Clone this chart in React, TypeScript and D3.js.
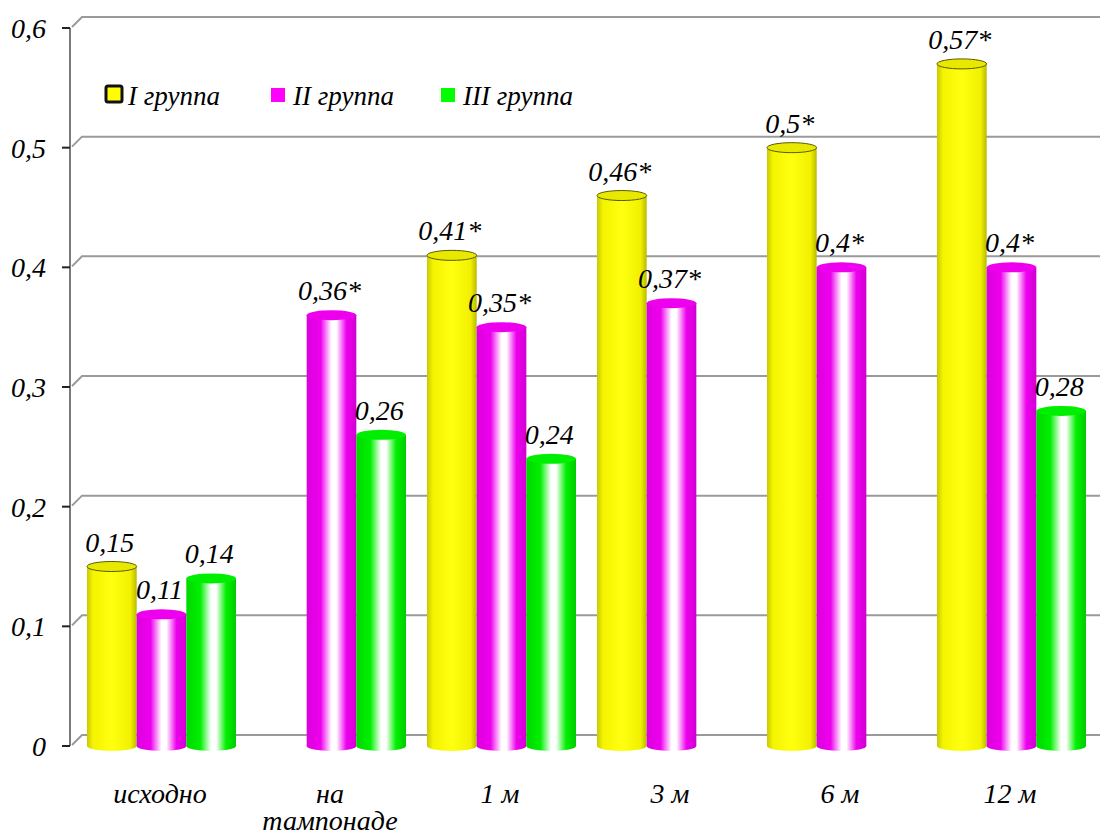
import React from 'react'
import * as d3 from 'd3'

// categories along the x axis (second line after \n)
const categories = ['исходно', 'на\nтампонаде', '1 м', '3 м', '6 м', '12 м']
const seriesNames = ['I группа', 'II группа', 'III группа']
// values per group, null = no bar
const group1: (number | null)[] = [0.15, null, 0.41, 0.46, 0.5, 0.57]
const group2: (number | null)[] = [0.11, 0.36, 0.35, 0.37, 0.4, 0.4]
const group3: (number | null)[] = [0.14, 0.26, 0.24, null, null, 0.28]
// significance marks on the labels
const star1 = [false, false, true, true, true, true]
const star2 = [false, true, true, true, true, true]
const star3 = [false, false, false, false, false, false]
const yTicks = [0, 0.1, 0.2, 0.3, 0.4, 0.5, 0.6]

const fmt = (v: number) => String(v).replace('.', ',')

const W = 1100
const H = 836
const left = 70
const top = 28
const bottom = 746
const depth = 10 // back wall offset
const ry = 5

const x0 = d3.scaleBand<number>().domain(d3.range(categories.length)).range([75, 1095])
const x1 = d3.scaleBand<number>().domain([0, 1, 2]).range([12, 161])
const y = d3.scaleLinear().domain([0, 0.6]).range([bottom, top])

const grads = [
  { id: 'g1', stops: [['0%', '#c9c900'], ['12%', '#f4f400'], ['50%', '#ffff10'], ['88%', '#f0f000'], ['100%', '#b8b800']] },
  { id: 'g2', stops: [['0%', '#dd00dd'], ['28%', '#ee00ee'], ['50%', '#ffffff'], ['60%', '#ffffff'], ['80%', '#ee00ee'], ['100%', '#d000d0']] },
  { id: 'g3', stops: [['0%', '#00d800'], ['28%', '#00f000'], ['50%', '#ffffff'], ['60%', '#ffffff'], ['80%', '#00f000'], ['100%', '#00cc00']] },
]
const tops = ['#e8e800', '#ee00ee', '#00ee00']
const legendX = [104, 271, 441]

const series = [
  { vals: group1, stars: star1 },
  { vals: group2, stars: star2 },
  { vals: group3, stars: star3 },
]

const txt = { fontFamily: 'Liberation Serif', fontStyle: 'italic', fontSize: 28, fill: '#000' } as const

const App = () => {
  return (
    <svg width={W} height={H} style={{ display: 'block', position: 'absolute', left: 0, top: 0 }}>
      <defs>
        {grads.map((g) => (
          <linearGradient key={g.id} id={g.id} x1="0%" x2="100%" y1="0%" y2="0%">
            {g.stops.map(([o, c]) => (
              <stop key={o} offset={o} stopColor={c} />
            ))}
          </linearGradient>
        ))}
      </defs>

      {/* grid on the back wall */}
      {yTicks.map((t) => {
        const yy = y(t)
        return (
          <path
            key={t}
            d={`M${left + 2},${yy - 1} L${left + 2 + depth},${yy - 1 - depth} L${W},${yy - 1 - depth}`}
            fill="none"
            stroke="#9a9a9a"
            strokeWidth={2}
          />
        )
      })}

      {/* y axis */}
      <line x1={left} x2={left} y1={y(0.6)} y2={y(0)} stroke="#7a7a7a" strokeWidth={2} />
      {yTicks.map((t) => (
        <g key={t}>
          <line x1={left - 8} x2={left} y1={y(t)} y2={y(t)} stroke="#222" strokeWidth={2} />
          <text x={46} y={y(t) + 10} textAnchor="end" {...txt}>
            {fmt(t)}
          </text>
        </g>
      ))}

      {/* bars */}
      {categories.map((c, ci) =>
        series.map((s, si) => {
          const v = s.vals[ci]
          if (v == null) return null
          const bx = (x0(ci) as number) + (x1(si) as number)
          const bw = x1.bandwidth()
          const cx = bx + bw / 2
          const yt = y(v)
          return (
            <g key={`${ci}-${si}`}>
              <ellipse cx={cx} cy={bottom} rx={bw / 2} ry={ry} fill={`url(#g${si + 1})`} />
              <rect x={bx} y={yt} width={bw} height={bottom - yt} fill={`url(#g${si + 1})`} />
              <ellipse
                cx={cx}
                cy={yt}
                rx={bw / 2}
                ry={ry}
                fill={tops[si]}
                stroke={si === 0 ? '#5a5a00' : 'none'}
                strokeWidth={1}
              />
              <text x={cx - 2} y={yt - 15} textAnchor="middle" {...txt}>
                {fmt(v) + (s.stars[ci] ? '*' : '')}
              </text>
            </g>
          )
        })
      )}

      {/* x labels */}
      {categories.map((c, ci) => (
        <text key={c} textAnchor="middle" {...txt}>
          {c.split('\n').map((line, li) => (
            <tspan key={li} x={(x0(ci) as number) + x0.bandwidth() / 2} y={803 + li * 27}>
              {line}
            </tspan>
          ))}
        </text>
      ))}

      {/* legend */}
      {seriesNames.map((n, i) => (
        <g key={n}>
          {i === 0 ? (
            <rect x={106} y={86} width={16} height={16} rx={2} fill="#ffff00" stroke="#111" strokeWidth={3} />
          ) : (
            <rect x={legendX[i]} y={88} width={14} height={14} fill={i === 1 ? '#ff00ff' : '#00ff00'} />
          )}
          <text x={legendX[i] + (i === 0 ? 24 : 22)} y={105} {...txt} fontSize={27}>
            {n}
          </text>
        </g>
      ))}
    </svg>
  )
}

export default App
